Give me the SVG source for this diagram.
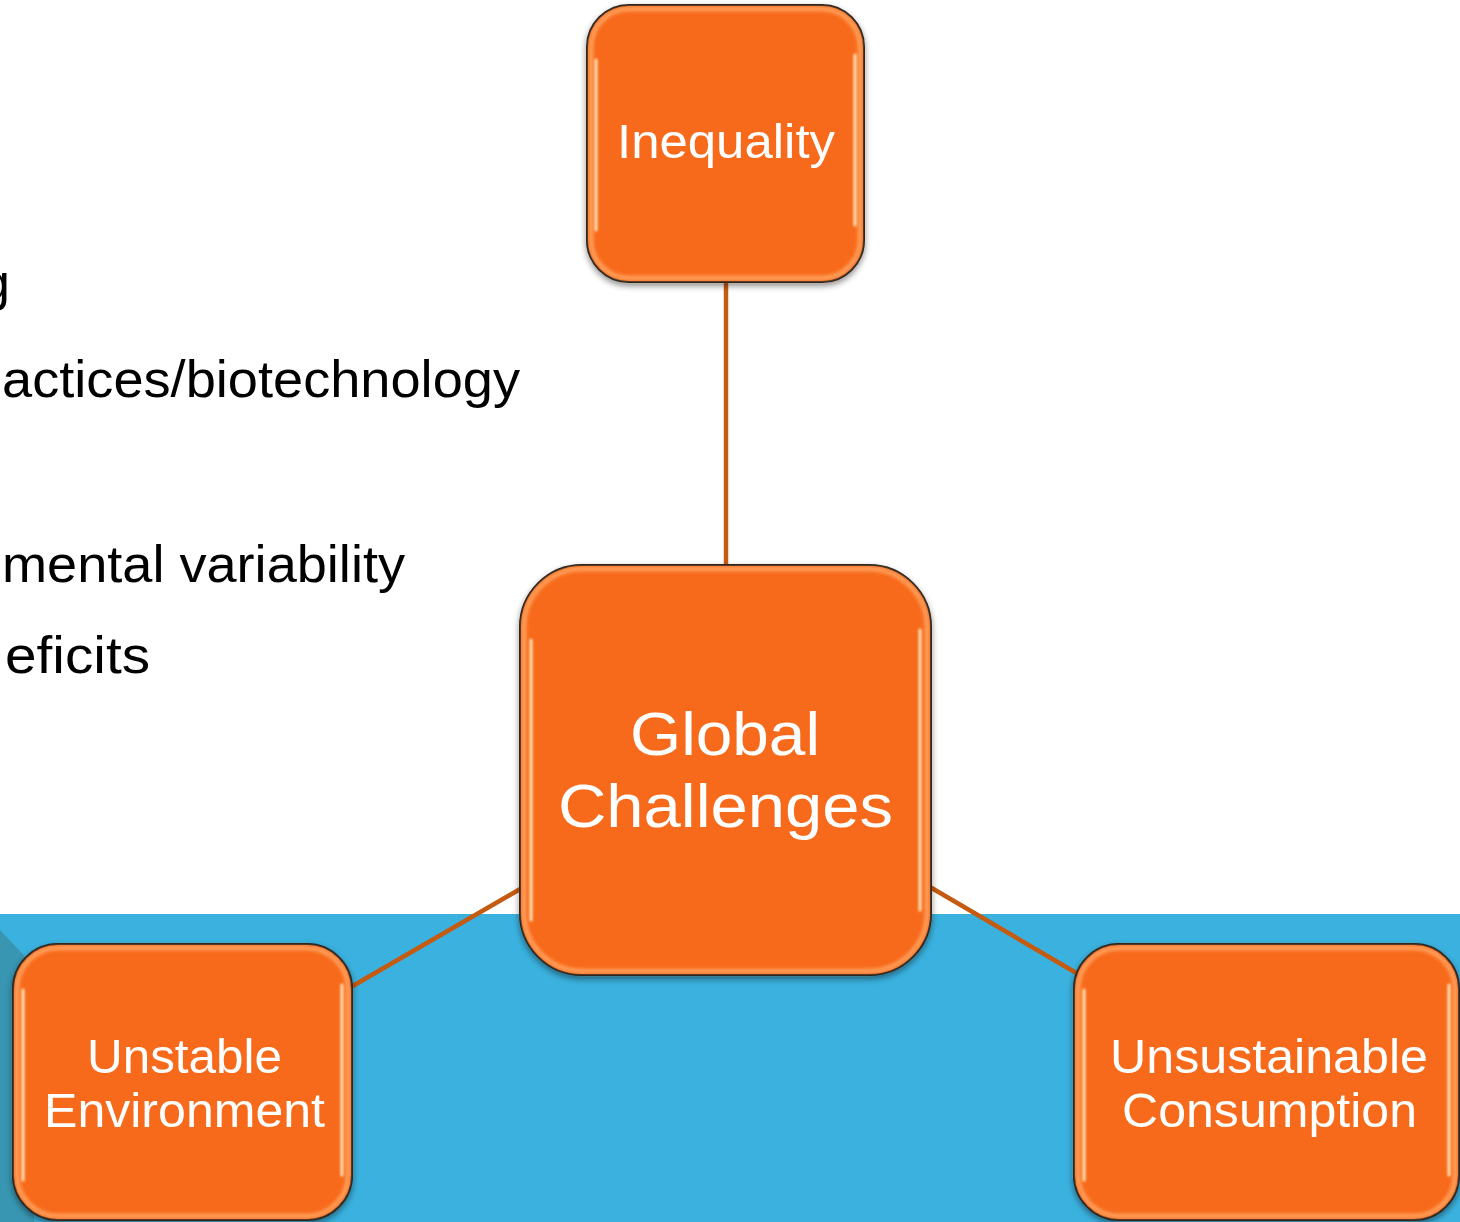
<svg xmlns="http://www.w3.org/2000/svg" width="1460" height="1222" viewBox="0 0 1460 1222">
<style>
.body{font-family:"Liberation Sans",Arial,sans-serif;font-size:52px;fill:#000}
.lbl{font-family:"Liberation Sans",Arial,sans-serif;fill:#fff}
.box{fill:#F76B1C;stroke:#1a1a1a;stroke-width:2}
.bevel{fill:none;stroke:#FF9A55;stroke-width:5;filter:url(#soft)}
.hl{fill:none;stroke:#FFE3B5;stroke-width:3;stroke-linecap:round;filter:url(#soft1)}
.conn{stroke:#C55A11;stroke-width:4.5;fill:none}
</style>
<defs>
<filter id="shadow" x="-10%" y="-10%" width="120%" height="125%">
<feGaussianBlur in="SourceAlpha" stdDeviation="3"/>
<feOffset dx="0" dy="3"/>
<feComponentTransfer><feFuncA type="linear" slope="0.45"/></feComponentTransfer>
<feMerge><feMergeNode/><feMergeNode in="SourceGraphic"/></feMerge>
</filter>
<filter id="soft" x="-5%" y="-5%" width="110%" height="110%"><feGaussianBlur stdDeviation="1.5"/></filter>
<filter id="soft1" x="-20%" y="-5%" width="140%" height="110%"><feGaussianBlur stdDeviation="0.8"/></filter>
</defs>
<rect width="1460" height="1222" fill="#fff"/>
<rect x="0" y="914" width="1460" height="308" fill="#3AB1DE"/>
<polygon points="0,930 34,966 34,1222 0,1222" fill="#3896B2"/>
<g id="bodytext">
<text class="body" x="-19" y="300">g</text>
<text class="body" x="2" y="397" textLength="518" lengthAdjust="spacingAndGlyphs">actices/biotechnology</text>
<text class="body" x="2" y="582" textLength="403" lengthAdjust="spacingAndGlyphs">mental variability</text>
<text class="body" x="5" y="673" textLength="145" lengthAdjust="spacingAndGlyphs">eficits</text>
</g>
<g id="connectors">
<line class="conn" x1="726" y1="280" x2="726" y2="567"/>
<line class="conn" x1="522" y1="888" x2="351" y2="987"/>
<line class="conn" x1="930" y1="887" x2="1078" y2="974"/>
</g>
<g id="node-inequality" filter="url(#shadow)">
<rect class="box" x="587" y="5" width="277" height="277" rx="42"/>
<rect class="bevel" x="591" y="9" width="269" height="269" rx="38"/>
<path class="hl" d="M596 60 V230 M855 55 V225"/>
<text class="lbl" x="617" y="158" font-size="48" textLength="218" lengthAdjust="spacingAndGlyphs">Inequality</text>
</g>
<g id="node-global" filter="url(#shadow)">
<rect class="box" x="520" y="565" width="411" height="410" rx="62"/>
<rect class="bevel" x="524" y="569" width="403" height="402" rx="58"/>
<path class="hl" d="M531 640 V920 M920 630 V910"/>
<text class="lbl" x="630" y="755" font-size="62" textLength="190" lengthAdjust="spacingAndGlyphs">Global</text>
<text class="lbl" x="558" y="827" font-size="62" textLength="335" lengthAdjust="spacingAndGlyphs">Challenges</text>
</g>
<g id="node-unstable" filter="url(#shadow)">
<rect class="box" x="13" y="944" width="339" height="276" rx="45"/>
<rect class="bevel" x="17" y="948" width="331" height="268" rx="41"/>
<path class="hl" d="M23 990 V1180 M342 985 V1175"/>
<text class="lbl" x="87" y="1073" font-size="49" textLength="195" lengthAdjust="spacingAndGlyphs">Unstable</text>
<text class="lbl" x="44" y="1127" font-size="49" textLength="281" lengthAdjust="spacingAndGlyphs">Environment</text>
</g>
<g id="node-unsustainable" filter="url(#shadow)">
<rect class="box" x="1074" y="944" width="385" height="276" rx="45"/>
<rect class="bevel" x="1078" y="948" width="377" height="268" rx="41"/>
<path class="hl" d="M1084 990 V1180 M1449 985 V1175"/>
<text class="lbl" x="1110" y="1073" font-size="49" textLength="318" lengthAdjust="spacingAndGlyphs">Unsustainable</text>
<text class="lbl" x="1122" y="1127" font-size="49" textLength="295" lengthAdjust="spacingAndGlyphs">Consumption</text>
</g>
</svg>
